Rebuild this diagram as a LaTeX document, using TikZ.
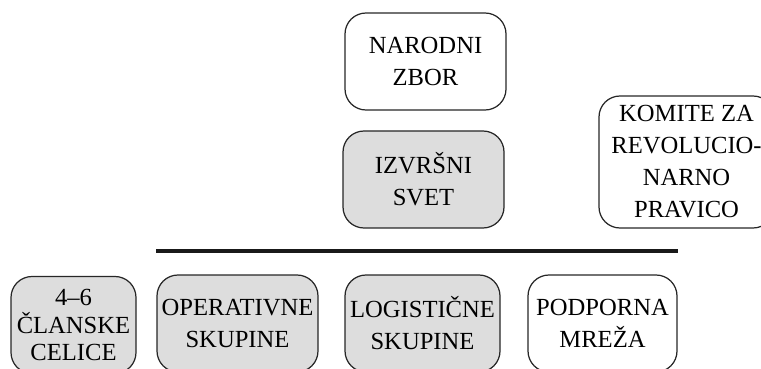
\documentclass[tikz,border=0pt]{standalone}
\usepackage{fontspec}
\setmainfont{Liberation Serif}
\usepackage{tikz}
\usetikzlibrary{shapes.geometric,positioning}
\definecolor{boxgray}{RGB}{221,221,221}
\tikzset{
  unit/.style={draw=black!85, line width=0.7pt, rounded corners=0.42cm,
    align=center, inner sep=0pt, minimum height=1.94cm,
    font=\fontsize{14}{18.2}\selectfont},
  shaded/.style={unit, fill=boxgray},
  bar/.style={line width=2pt, black!90}
}
\begin{document}
\begin{tikzpicture}
%
\useasboundingbox (0,0) rectangle (15.22cm,7.36cm);
%
\node[unit,   minimum width=3.22cm] (zbor)    at (8.51cm,6.13cm) {NARODNI\\ZBOR};
\node[shaded, minimum width=3.22cm] (svet)    at (8.47cm,3.77cm) {IZVRŠNI\\SVET};
\node[unit,   minimum width=3.50cm, minimum height=2.64cm] (komite) at (13.73cm,4.12cm)
  {KOMITE ZA\\REVOLUCIO-\\NARNO\\PRAVICO};
%
\node[shaded, minimum width=2.50cm, font=\fontsize{14}{15.6}\selectfont] (celice) at (1.47cm,0.86cm)
  {4--6\\ČLANSKE\\CELICE};
\node[shaded, minimum width=3.22cm] (operat)  at (4.75cm,0.89cm) {OPERATIVNE\\SKUPINE};
\node[shaded, minimum width=3.10cm] (logist)  at (8.45cm,0.89cm) {LOGISTIČNE\\SKUPINE};
\node[unit,   minimum width=2.98cm] (podpora) at (12.05cm,0.89cm) {PODPORNA\\MREŽA};
%
\coordinate (barL) at (operat.north west |- 0,2.34cm);
\coordinate (barR) at (podpora.north east |- 0,2.34cm);
\draw[bar] (barL) -- (barR);
%
\end{tikzpicture}
\end{document}
